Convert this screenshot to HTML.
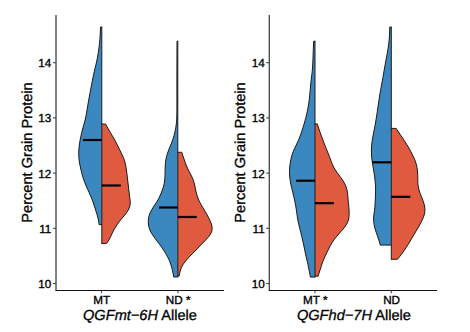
<!DOCTYPE html>
<html><head><meta charset="utf-8">
<style>
html,body{margin:0;padding:0;background:#fff;width:470px;height:332px;overflow:hidden}
svg{display:block}
text{font-family:"Liberation Sans",sans-serif;fill:#000;text-rendering:geometricPrecision}
.tk{font-size:11.7px;stroke:#000;stroke-width:0.35px}
.ti{font-size:14.6px;stroke:#000;stroke-width:0.3px}
</style></head><body>
<svg width="470" height="332" viewBox="0 0 470 332">
<rect width="470" height="332" fill="#fff"/>
<path d="M101.80,27.00 L100.50,27.00 100.48,28.00 100.45,29.00 100.41,30.00 100.37,31.00 100.33,32.00 100.29,33.00 100.24,34.00 100.18,35.00 100.12,36.00 100.05,37.00 99.98,38.00 99.90,39.00 99.81,40.00 99.72,41.00 99.63,42.00 99.52,43.00 99.42,44.00 99.31,45.00 99.19,46.00 99.07,47.00 98.94,48.00 98.81,49.00 98.67,50.00 98.53,51.00 98.38,52.00 98.23,53.00 98.07,54.00 97.91,55.00 97.73,56.00 97.56,57.00 97.37,58.00 97.18,59.00 96.98,60.00 96.77,61.00 96.55,62.00 96.33,63.00 96.10,64.00 95.86,65.00 95.61,66.00 95.37,67.00 95.12,68.00 94.88,69.00 94.64,70.00 94.41,71.00 94.18,72.00 93.96,73.00 93.74,74.00 93.52,75.00 93.31,76.00 93.10,77.00 92.90,78.00 92.70,79.00 92.50,80.00 92.30,81.00 92.11,82.00 91.92,83.00 91.72,84.00 91.53,85.00 91.34,86.00 91.15,87.00 90.97,88.00 90.78,89.00 90.59,90.00 90.40,91.00 90.21,92.00 90.02,93.00 89.83,94.00 89.64,95.00 89.45,96.00 89.26,97.00 89.08,98.00 88.89,99.00 88.71,100.00 88.54,101.00 88.36,102.00 88.19,103.00 88.02,104.00 87.85,105.00 87.68,106.00 87.52,107.00 87.35,108.00 87.19,109.00 87.02,110.00 86.86,111.00 86.69,112.00 86.52,113.00 86.35,114.00 86.17,115.00 85.98,116.00 85.78,117.00 85.57,118.00 85.35,119.00 85.12,120.00 84.87,121.00 84.61,122.00 84.33,123.00 84.05,124.00 83.77,125.00 83.48,126.00 83.19,127.00 82.91,128.00 82.63,129.00 82.36,130.00 82.10,131.00 81.85,132.00 81.61,133.00 81.38,134.00 81.16,135.00 80.95,136.00 80.74,137.00 80.54,138.00 80.35,139.00 80.16,140.00 79.98,141.00 79.81,142.00 79.64,143.00 79.49,144.00 79.34,145.00 79.21,146.00 79.09,147.00 78.99,148.00 78.90,149.00 78.83,150.00 78.77,151.00 78.74,152.00 78.72,153.00 78.72,154.00 78.75,155.00 78.79,156.00 78.84,157.00 78.92,158.00 79.01,159.00 79.13,160.00 79.26,161.00 79.41,162.00 79.57,163.00 79.75,164.00 79.94,165.00 80.15,166.00 80.36,167.00 80.58,168.00 80.81,169.00 81.04,170.00 81.28,171.00 81.53,172.00 81.78,173.00 82.04,174.00 82.31,175.00 82.59,176.00 82.89,177.00 83.20,178.00 83.52,179.00 83.86,180.00 84.22,181.00 84.60,182.00 84.99,183.00 85.39,184.00 85.81,185.00 86.23,186.00 86.67,187.00 87.11,188.00 87.55,189.00 87.99,190.00 88.44,191.00 88.88,192.00 89.33,193.00 89.77,194.00 90.20,195.00 90.63,196.00 91.05,197.00 91.45,198.00 91.85,199.00 92.24,200.00 92.61,201.00 92.97,202.00 93.32,203.00 93.66,204.00 93.99,205.00 94.31,206.00 94.64,207.00 94.96,208.00 95.27,209.00 95.59,210.00 95.91,211.00 96.24,212.00 96.55,213.00 96.86,214.00 97.16,215.00 97.45,216.00 97.72,217.00 97.98,218.00 98.21,219.00 98.42,220.00 98.60,221.00 98.76,222.00 98.91,223.00 99.04,224.00 99.00,224.60 L101.80,224.60 Z" fill="#3b87c0"/>
<path d="M101.80,27.00 L100.50,27.00 100.48,28.00 100.45,29.00 100.41,30.00 100.37,31.00 100.33,32.00 100.29,33.00 100.24,34.00 100.18,35.00 100.12,36.00 100.05,37.00 99.98,38.00 99.90,39.00 99.81,40.00 99.72,41.00 99.63,42.00 99.52,43.00 99.42,44.00 99.31,45.00 99.19,46.00 99.07,47.00 98.94,48.00 98.81,49.00 98.67,50.00 98.53,51.00 98.38,52.00 98.23,53.00 98.07,54.00 97.91,55.00 97.73,56.00 97.56,57.00 97.37,58.00 97.18,59.00 96.98,60.00 96.77,61.00 96.55,62.00 96.33,63.00 96.10,64.00 95.86,65.00 95.61,66.00 95.37,67.00 95.12,68.00 94.88,69.00 94.64,70.00 94.41,71.00 94.18,72.00 93.96,73.00 93.74,74.00 93.52,75.00 93.31,76.00 93.10,77.00 92.90,78.00 92.70,79.00 92.50,80.00 92.30,81.00 92.11,82.00 91.92,83.00 91.72,84.00 91.53,85.00 91.34,86.00 91.15,87.00 90.97,88.00 90.78,89.00 90.59,90.00 90.40,91.00 90.21,92.00 90.02,93.00 89.83,94.00 89.64,95.00 89.45,96.00 89.26,97.00 89.08,98.00 88.89,99.00 88.71,100.00 88.54,101.00 88.36,102.00 88.19,103.00 88.02,104.00 87.85,105.00 87.68,106.00 87.52,107.00 87.35,108.00 87.19,109.00 87.02,110.00 86.86,111.00 86.69,112.00 86.52,113.00 86.35,114.00 86.17,115.00 85.98,116.00 85.78,117.00 85.57,118.00 85.35,119.00 85.12,120.00 84.87,121.00 84.61,122.00 84.33,123.00 84.05,124.00 83.77,125.00 83.48,126.00 83.19,127.00 82.91,128.00 82.63,129.00 82.36,130.00 82.10,131.00 81.85,132.00 81.61,133.00 81.38,134.00 81.16,135.00 80.95,136.00 80.74,137.00 80.54,138.00 80.35,139.00 80.16,140.00 79.98,141.00 79.81,142.00 79.64,143.00 79.49,144.00 79.34,145.00 79.21,146.00 79.09,147.00 78.99,148.00 78.90,149.00 78.83,150.00 78.77,151.00 78.74,152.00 78.72,153.00 78.72,154.00 78.75,155.00 78.79,156.00 78.84,157.00 78.92,158.00 79.01,159.00 79.13,160.00 79.26,161.00 79.41,162.00 79.57,163.00 79.75,164.00 79.94,165.00 80.15,166.00 80.36,167.00 80.58,168.00 80.81,169.00 81.04,170.00 81.28,171.00 81.53,172.00 81.78,173.00 82.04,174.00 82.31,175.00 82.59,176.00 82.89,177.00 83.20,178.00 83.52,179.00 83.86,180.00 84.22,181.00 84.60,182.00 84.99,183.00 85.39,184.00 85.81,185.00 86.23,186.00 86.67,187.00 87.11,188.00 87.55,189.00 87.99,190.00 88.44,191.00 88.88,192.00 89.33,193.00 89.77,194.00 90.20,195.00 90.63,196.00 91.05,197.00 91.45,198.00 91.85,199.00 92.24,200.00 92.61,201.00 92.97,202.00 93.32,203.00 93.66,204.00 93.99,205.00 94.31,206.00 94.64,207.00 94.96,208.00 95.27,209.00 95.59,210.00 95.91,211.00 96.24,212.00 96.55,213.00 96.86,214.00 97.16,215.00 97.45,216.00 97.72,217.00 97.98,218.00 98.21,219.00 98.42,220.00 98.60,221.00 98.76,222.00 98.91,223.00 99.04,224.00 99.00,224.60 L101.80,224.60" fill="none" stroke="#1c1c1c" stroke-width="1" stroke-linejoin="round" stroke-linecap="round"/>
<path d="M101.80,124.00 L105.60,124.00 106.11,125.00 106.65,126.00 107.20,127.00 107.75,128.00 108.31,129.00 108.88,130.00 109.46,131.00 110.05,132.00 110.64,133.00 111.23,134.00 111.83,135.00 112.42,136.00 113.01,137.00 113.59,138.00 114.16,139.00 114.72,140.00 115.26,141.00 115.80,142.00 116.32,143.00 116.83,144.00 117.33,145.00 117.83,146.00 118.33,147.00 118.82,148.00 119.31,149.00 119.81,150.00 120.30,151.00 120.79,152.00 121.28,153.00 121.76,154.00 122.23,155.00 122.69,156.00 123.12,157.00 123.53,158.00 123.92,159.00 124.27,160.00 124.60,161.00 124.89,162.00 125.15,163.00 125.39,164.00 125.61,165.00 125.80,166.00 125.98,167.00 126.14,168.00 126.29,169.00 126.44,170.00 126.57,171.00 126.70,172.00 126.82,173.00 126.94,174.00 127.06,175.00 127.17,176.00 127.29,177.00 127.40,178.00 127.52,179.00 127.63,180.00 127.75,181.00 127.87,182.00 127.99,183.00 128.11,184.00 128.24,185.00 128.36,186.00 128.48,187.00 128.60,188.00 128.71,189.00 128.83,190.00 128.94,191.00 129.05,192.00 129.16,193.00 129.28,194.00 129.41,195.00 129.54,196.00 129.68,197.00 129.82,198.00 129.95,199.00 130.06,200.00 130.14,201.00 130.19,202.00 130.19,203.00 130.13,204.00 130.01,205.00 129.82,206.00 129.55,207.00 129.20,208.00 128.77,209.00 128.26,210.00 127.67,211.00 127.01,212.00 126.29,213.00 125.53,214.00 124.73,215.00 123.91,216.00 123.07,217.00 122.23,218.00 121.39,219.00 120.57,220.00 119.77,221.00 119.00,222.00 118.25,223.00 117.54,224.00 116.85,225.00 116.19,226.00 115.56,227.00 114.96,228.00 114.39,229.00 113.84,230.00 113.32,231.00 112.82,232.00 112.34,233.00 111.87,234.00 111.40,235.00 110.92,236.00 110.44,237.00 109.93,238.00 109.39,239.00 108.83,240.00 108.22,241.00 107.58,242.00 106.93,243.00 106.30,243.60 L101.80,243.60 Z" fill="#e05a3f"/>
<path d="M101.80,124.00 L105.60,124.00 106.11,125.00 106.65,126.00 107.20,127.00 107.75,128.00 108.31,129.00 108.88,130.00 109.46,131.00 110.05,132.00 110.64,133.00 111.23,134.00 111.83,135.00 112.42,136.00 113.01,137.00 113.59,138.00 114.16,139.00 114.72,140.00 115.26,141.00 115.80,142.00 116.32,143.00 116.83,144.00 117.33,145.00 117.83,146.00 118.33,147.00 118.82,148.00 119.31,149.00 119.81,150.00 120.30,151.00 120.79,152.00 121.28,153.00 121.76,154.00 122.23,155.00 122.69,156.00 123.12,157.00 123.53,158.00 123.92,159.00 124.27,160.00 124.60,161.00 124.89,162.00 125.15,163.00 125.39,164.00 125.61,165.00 125.80,166.00 125.98,167.00 126.14,168.00 126.29,169.00 126.44,170.00 126.57,171.00 126.70,172.00 126.82,173.00 126.94,174.00 127.06,175.00 127.17,176.00 127.29,177.00 127.40,178.00 127.52,179.00 127.63,180.00 127.75,181.00 127.87,182.00 127.99,183.00 128.11,184.00 128.24,185.00 128.36,186.00 128.48,187.00 128.60,188.00 128.71,189.00 128.83,190.00 128.94,191.00 129.05,192.00 129.16,193.00 129.28,194.00 129.41,195.00 129.54,196.00 129.68,197.00 129.82,198.00 129.95,199.00 130.06,200.00 130.14,201.00 130.19,202.00 130.19,203.00 130.13,204.00 130.01,205.00 129.82,206.00 129.55,207.00 129.20,208.00 128.77,209.00 128.26,210.00 127.67,211.00 127.01,212.00 126.29,213.00 125.53,214.00 124.73,215.00 123.91,216.00 123.07,217.00 122.23,218.00 121.39,219.00 120.57,220.00 119.77,221.00 119.00,222.00 118.25,223.00 117.54,224.00 116.85,225.00 116.19,226.00 115.56,227.00 114.96,228.00 114.39,229.00 113.84,230.00 113.32,231.00 112.82,232.00 112.34,233.00 111.87,234.00 111.40,235.00 110.92,236.00 110.44,237.00 109.93,238.00 109.39,239.00 108.83,240.00 108.22,241.00 107.58,242.00 106.93,243.00 106.30,243.60 L101.80,243.60" fill="none" stroke="#1c1c1c" stroke-width="1" stroke-linejoin="round" stroke-linecap="round"/>
<line x1="101.8" y1="27.0" x2="101.8" y2="243.6" stroke="#1c1c1c" stroke-width="1"/>
<line x1="83" y1="140" x2="101.8" y2="140" stroke="#000" stroke-width="2.2"/>
<line x1="101.8" y1="185.5" x2="120.8" y2="185.5" stroke="#000" stroke-width="2.2"/>
<path d="M177.80,41.20 L177.00,41.20 177.00,42.00 176.99,43.00 176.99,44.00 176.99,45.00 176.98,46.00 176.98,47.00 176.98,48.00 176.97,49.00 176.97,50.00 176.97,51.00 176.96,52.00 176.96,53.00 176.96,54.00 176.95,55.00 176.95,56.00 176.95,57.00 176.94,58.00 176.94,59.00 176.94,60.00 176.93,61.00 176.93,62.00 176.93,63.00 176.93,64.00 176.92,65.00 176.92,66.00 176.92,67.00 176.92,68.00 176.91,69.00 176.91,70.00 176.91,71.00 176.91,72.00 176.90,73.00 176.90,74.00 176.90,75.00 176.90,76.00 176.90,77.00 176.90,78.00 176.90,79.00 176.89,80.00 176.89,81.00 176.89,82.00 176.89,83.00 176.89,84.00 176.89,85.00 176.89,86.00 176.89,87.00 176.89,88.00 176.89,89.00 176.89,90.00 176.89,91.00 176.89,92.00 176.89,93.00 176.89,94.00 176.90,95.00 176.90,96.00 176.90,97.00 176.90,98.00 176.90,99.00 176.90,100.00 176.91,101.00 176.91,102.00 176.91,103.00 176.91,104.00 176.91,105.00 176.91,106.00 176.91,107.00 176.91,108.00 176.90,109.00 176.90,110.00 176.89,111.00 176.88,112.00 176.87,113.00 176.85,114.00 176.83,115.00 176.81,116.00 176.78,117.00 176.75,118.00 176.70,119.00 176.65,120.00 176.58,121.00 176.50,122.00 176.41,123.00 176.30,124.00 176.17,125.00 176.03,126.00 175.88,127.00 175.71,128.00 175.53,129.00 175.34,130.00 175.13,131.00 174.92,132.00 174.69,133.00 174.45,134.00 174.19,135.00 173.92,136.00 173.63,137.00 173.32,138.00 172.99,139.00 172.65,140.00 172.29,141.00 171.92,142.00 171.53,143.00 171.13,144.00 170.73,145.00 170.31,146.00 169.90,147.00 169.49,148.00 169.08,149.00 168.69,150.00 168.31,151.00 167.95,152.00 167.62,153.00 167.30,154.00 167.00,155.00 166.73,156.00 166.47,157.00 166.24,158.00 166.04,159.00 165.86,160.00 165.70,161.00 165.57,162.00 165.46,163.00 165.37,164.00 165.30,165.00 165.24,166.00 165.19,167.00 165.16,168.00 165.13,169.00 165.11,170.00 165.09,171.00 165.07,172.00 165.06,173.00 165.04,174.00 165.01,175.00 164.98,176.00 164.93,177.00 164.87,178.00 164.79,179.00 164.70,180.00 164.58,181.00 164.45,182.00 164.28,183.00 164.08,184.00 163.86,185.00 163.60,186.00 163.31,187.00 163.00,188.00 162.67,189.00 162.32,190.00 161.96,191.00 161.58,192.00 161.19,193.00 160.79,194.00 160.37,195.00 159.93,196.00 159.47,197.00 158.98,198.00 158.46,199.00 157.90,200.00 157.31,201.00 156.68,202.00 156.03,203.00 155.36,204.00 154.70,205.00 154.05,206.00 153.40,207.00 152.78,208.00 152.18,209.00 151.61,210.00 151.07,211.00 150.57,212.00 150.11,213.00 149.70,214.00 149.34,215.00 149.04,216.00 148.79,217.00 148.60,218.00 148.45,219.00 148.35,220.00 148.30,221.00 148.29,222.00 148.33,223.00 148.42,224.00 148.55,225.00 148.72,226.00 148.95,227.00 149.22,228.00 149.55,229.00 149.94,230.00 150.38,231.00 150.88,232.00 151.43,233.00 152.03,234.00 152.67,235.00 153.34,236.00 154.05,237.00 154.78,238.00 155.53,239.00 156.28,240.00 157.04,241.00 157.79,242.00 158.54,243.00 159.28,244.00 160.02,245.00 160.75,246.00 161.47,247.00 162.17,248.00 162.86,249.00 163.53,250.00 164.18,251.00 164.80,252.00 165.41,253.00 166.00,254.00 166.57,255.00 167.12,256.00 167.66,257.00 168.17,258.00 168.65,259.00 169.11,260.00 169.55,261.00 169.95,262.00 170.33,263.00 170.68,264.00 171.01,265.00 171.32,266.00 171.61,267.00 171.89,268.00 172.14,269.00 172.38,270.00 172.60,271.00 172.81,272.00 173.01,273.00 173.20,274.00 173.39,275.00 173.57,276.00 173.70,277.00 L177.80,277.00 Z" fill="#3b87c0"/>
<path d="M177.80,41.20 L177.00,41.20 177.00,42.00 176.99,43.00 176.99,44.00 176.99,45.00 176.98,46.00 176.98,47.00 176.98,48.00 176.97,49.00 176.97,50.00 176.97,51.00 176.96,52.00 176.96,53.00 176.96,54.00 176.95,55.00 176.95,56.00 176.95,57.00 176.94,58.00 176.94,59.00 176.94,60.00 176.93,61.00 176.93,62.00 176.93,63.00 176.93,64.00 176.92,65.00 176.92,66.00 176.92,67.00 176.92,68.00 176.91,69.00 176.91,70.00 176.91,71.00 176.91,72.00 176.90,73.00 176.90,74.00 176.90,75.00 176.90,76.00 176.90,77.00 176.90,78.00 176.90,79.00 176.89,80.00 176.89,81.00 176.89,82.00 176.89,83.00 176.89,84.00 176.89,85.00 176.89,86.00 176.89,87.00 176.89,88.00 176.89,89.00 176.89,90.00 176.89,91.00 176.89,92.00 176.89,93.00 176.89,94.00 176.90,95.00 176.90,96.00 176.90,97.00 176.90,98.00 176.90,99.00 176.90,100.00 176.91,101.00 176.91,102.00 176.91,103.00 176.91,104.00 176.91,105.00 176.91,106.00 176.91,107.00 176.91,108.00 176.90,109.00 176.90,110.00 176.89,111.00 176.88,112.00 176.87,113.00 176.85,114.00 176.83,115.00 176.81,116.00 176.78,117.00 176.75,118.00 176.70,119.00 176.65,120.00 176.58,121.00 176.50,122.00 176.41,123.00 176.30,124.00 176.17,125.00 176.03,126.00 175.88,127.00 175.71,128.00 175.53,129.00 175.34,130.00 175.13,131.00 174.92,132.00 174.69,133.00 174.45,134.00 174.19,135.00 173.92,136.00 173.63,137.00 173.32,138.00 172.99,139.00 172.65,140.00 172.29,141.00 171.92,142.00 171.53,143.00 171.13,144.00 170.73,145.00 170.31,146.00 169.90,147.00 169.49,148.00 169.08,149.00 168.69,150.00 168.31,151.00 167.95,152.00 167.62,153.00 167.30,154.00 167.00,155.00 166.73,156.00 166.47,157.00 166.24,158.00 166.04,159.00 165.86,160.00 165.70,161.00 165.57,162.00 165.46,163.00 165.37,164.00 165.30,165.00 165.24,166.00 165.19,167.00 165.16,168.00 165.13,169.00 165.11,170.00 165.09,171.00 165.07,172.00 165.06,173.00 165.04,174.00 165.01,175.00 164.98,176.00 164.93,177.00 164.87,178.00 164.79,179.00 164.70,180.00 164.58,181.00 164.45,182.00 164.28,183.00 164.08,184.00 163.86,185.00 163.60,186.00 163.31,187.00 163.00,188.00 162.67,189.00 162.32,190.00 161.96,191.00 161.58,192.00 161.19,193.00 160.79,194.00 160.37,195.00 159.93,196.00 159.47,197.00 158.98,198.00 158.46,199.00 157.90,200.00 157.31,201.00 156.68,202.00 156.03,203.00 155.36,204.00 154.70,205.00 154.05,206.00 153.40,207.00 152.78,208.00 152.18,209.00 151.61,210.00 151.07,211.00 150.57,212.00 150.11,213.00 149.70,214.00 149.34,215.00 149.04,216.00 148.79,217.00 148.60,218.00 148.45,219.00 148.35,220.00 148.30,221.00 148.29,222.00 148.33,223.00 148.42,224.00 148.55,225.00 148.72,226.00 148.95,227.00 149.22,228.00 149.55,229.00 149.94,230.00 150.38,231.00 150.88,232.00 151.43,233.00 152.03,234.00 152.67,235.00 153.34,236.00 154.05,237.00 154.78,238.00 155.53,239.00 156.28,240.00 157.04,241.00 157.79,242.00 158.54,243.00 159.28,244.00 160.02,245.00 160.75,246.00 161.47,247.00 162.17,248.00 162.86,249.00 163.53,250.00 164.18,251.00 164.80,252.00 165.41,253.00 166.00,254.00 166.57,255.00 167.12,256.00 167.66,257.00 168.17,258.00 168.65,259.00 169.11,260.00 169.55,261.00 169.95,262.00 170.33,263.00 170.68,264.00 171.01,265.00 171.32,266.00 171.61,267.00 171.89,268.00 172.14,269.00 172.38,270.00 172.60,271.00 172.81,272.00 173.01,273.00 173.20,274.00 173.39,275.00 173.57,276.00 173.70,277.00 L177.80,277.00" fill="none" stroke="#1c1c1c" stroke-width="1" stroke-linejoin="round" stroke-linecap="round"/>
<path d="M177.80,152.30 L181.80,152.30 182.02,153.00 182.35,154.00 182.68,155.00 183.01,156.00 183.35,157.00 183.68,158.00 184.02,159.00 184.36,160.00 184.70,161.00 185.05,162.00 185.41,163.00 185.78,164.00 186.16,165.00 186.55,166.00 186.97,167.00 187.40,168.00 187.86,169.00 188.35,170.00 188.86,171.00 189.38,172.00 189.92,173.00 190.46,174.00 190.98,175.00 191.48,176.00 191.96,177.00 192.41,178.00 192.83,179.00 193.21,180.00 193.56,181.00 193.86,182.00 194.14,183.00 194.40,184.00 194.63,185.00 194.86,186.00 195.07,187.00 195.28,188.00 195.49,189.00 195.70,190.00 195.92,191.00 196.15,192.00 196.39,193.00 196.65,194.00 196.93,195.00 197.23,196.00 197.56,197.00 197.92,198.00 198.30,199.00 198.73,200.00 199.18,201.00 199.67,202.00 200.19,203.00 200.73,204.00 201.29,205.00 201.87,206.00 202.46,207.00 203.05,208.00 203.65,209.00 204.25,210.00 204.85,211.00 205.44,212.00 206.02,213.00 206.59,214.00 207.15,215.00 207.70,216.00 208.23,217.00 208.75,218.00 209.24,219.00 209.72,220.00 210.18,221.00 210.60,222.00 210.99,223.00 211.34,224.00 211.63,225.00 211.86,226.00 212.02,227.00 212.10,228.00 212.09,229.00 211.99,230.00 211.78,231.00 211.47,232.00 211.05,233.00 210.53,234.00 209.91,235.00 209.20,236.00 208.40,237.00 207.54,238.00 206.63,239.00 205.68,240.00 204.71,241.00 203.73,242.00 202.74,243.00 201.76,244.00 200.78,245.00 199.81,246.00 198.86,247.00 197.91,248.00 196.95,249.00 195.98,250.00 194.99,251.00 193.99,252.00 192.99,253.00 192.00,254.00 191.02,255.00 190.07,256.00 189.15,257.00 188.25,258.00 187.37,259.00 186.50,260.00 185.66,261.00 184.85,262.00 184.08,263.00 183.36,264.00 182.71,265.00 182.14,266.00 181.65,267.00 181.22,268.00 180.84,269.00 180.52,270.00 180.24,271.00 179.99,272.00 179.76,273.00 179.55,274.00 179.35,275.00 179.20,276.00 L177.80,276.00 Z" fill="#e05a3f"/>
<path d="M177.80,152.30 L181.80,152.30 182.02,153.00 182.35,154.00 182.68,155.00 183.01,156.00 183.35,157.00 183.68,158.00 184.02,159.00 184.36,160.00 184.70,161.00 185.05,162.00 185.41,163.00 185.78,164.00 186.16,165.00 186.55,166.00 186.97,167.00 187.40,168.00 187.86,169.00 188.35,170.00 188.86,171.00 189.38,172.00 189.92,173.00 190.46,174.00 190.98,175.00 191.48,176.00 191.96,177.00 192.41,178.00 192.83,179.00 193.21,180.00 193.56,181.00 193.86,182.00 194.14,183.00 194.40,184.00 194.63,185.00 194.86,186.00 195.07,187.00 195.28,188.00 195.49,189.00 195.70,190.00 195.92,191.00 196.15,192.00 196.39,193.00 196.65,194.00 196.93,195.00 197.23,196.00 197.56,197.00 197.92,198.00 198.30,199.00 198.73,200.00 199.18,201.00 199.67,202.00 200.19,203.00 200.73,204.00 201.29,205.00 201.87,206.00 202.46,207.00 203.05,208.00 203.65,209.00 204.25,210.00 204.85,211.00 205.44,212.00 206.02,213.00 206.59,214.00 207.15,215.00 207.70,216.00 208.23,217.00 208.75,218.00 209.24,219.00 209.72,220.00 210.18,221.00 210.60,222.00 210.99,223.00 211.34,224.00 211.63,225.00 211.86,226.00 212.02,227.00 212.10,228.00 212.09,229.00 211.99,230.00 211.78,231.00 211.47,232.00 211.05,233.00 210.53,234.00 209.91,235.00 209.20,236.00 208.40,237.00 207.54,238.00 206.63,239.00 205.68,240.00 204.71,241.00 203.73,242.00 202.74,243.00 201.76,244.00 200.78,245.00 199.81,246.00 198.86,247.00 197.91,248.00 196.95,249.00 195.98,250.00 194.99,251.00 193.99,252.00 192.99,253.00 192.00,254.00 191.02,255.00 190.07,256.00 189.15,257.00 188.25,258.00 187.37,259.00 186.50,260.00 185.66,261.00 184.85,262.00 184.08,263.00 183.36,264.00 182.71,265.00 182.14,266.00 181.65,267.00 181.22,268.00 180.84,269.00 180.52,270.00 180.24,271.00 179.99,272.00 179.76,273.00 179.55,274.00 179.35,275.00 179.20,276.00 L177.80,276.00" fill="none" stroke="#1c1c1c" stroke-width="1" stroke-linejoin="round" stroke-linecap="round"/>
<line x1="177.8" y1="41.2" x2="177.8" y2="277" stroke="#1c1c1c" stroke-width="1"/>
<line x1="159" y1="207.5" x2="177.8" y2="207.5" stroke="#000" stroke-width="2.2"/>
<line x1="177.8" y1="217" x2="196.8" y2="217" stroke="#000" stroke-width="2.2"/>
<path d="M315.00,41.20 L313.60,41.20 313.57,42.00 313.54,43.00 313.51,44.00 313.47,45.00 313.44,46.00 313.40,47.00 313.37,48.00 313.33,49.00 313.30,50.00 313.26,51.00 313.23,52.00 313.19,53.00 313.15,54.00 313.11,55.00 313.08,56.00 313.04,57.00 313.00,58.00 312.96,59.00 312.92,60.00 312.88,61.00 312.84,62.00 312.80,63.00 312.75,64.00 312.70,65.00 312.65,66.00 312.58,67.00 312.51,68.00 312.43,69.00 312.34,70.00 312.24,71.00 312.14,72.00 312.02,73.00 311.90,74.00 311.77,75.00 311.65,76.00 311.52,77.00 311.39,78.00 311.27,79.00 311.15,80.00 311.04,81.00 310.93,82.00 310.83,83.00 310.73,84.00 310.64,85.00 310.55,86.00 310.46,87.00 310.37,88.00 310.28,89.00 310.20,90.00 310.11,91.00 310.02,92.00 309.93,93.00 309.84,94.00 309.74,95.00 309.64,96.00 309.54,97.00 309.43,98.00 309.31,99.00 309.19,100.00 309.07,101.00 308.93,102.00 308.79,103.00 308.64,104.00 308.49,105.00 308.32,106.00 308.15,107.00 307.97,108.00 307.79,109.00 307.59,110.00 307.39,111.00 307.17,112.00 306.95,113.00 306.72,114.00 306.49,115.00 306.24,116.00 305.99,117.00 305.74,118.00 305.47,119.00 305.21,120.00 304.93,121.00 304.65,122.00 304.37,123.00 304.08,124.00 303.78,125.00 303.48,126.00 303.17,127.00 302.86,128.00 302.54,129.00 302.22,130.00 301.89,131.00 301.56,132.00 301.22,133.00 300.87,134.00 300.51,135.00 300.14,136.00 299.76,137.00 299.36,138.00 298.96,139.00 298.53,140.00 298.10,141.00 297.65,142.00 297.18,143.00 296.71,144.00 296.24,145.00 295.76,146.00 295.28,147.00 294.80,148.00 294.34,149.00 293.90,150.00 293.48,151.00 293.08,152.00 292.71,153.00 292.36,154.00 292.04,155.00 291.74,156.00 291.47,157.00 291.22,158.00 290.99,159.00 290.78,160.00 290.59,161.00 290.41,162.00 290.25,163.00 290.11,164.00 289.99,165.00 289.88,166.00 289.78,167.00 289.70,168.00 289.64,169.00 289.59,170.00 289.56,171.00 289.55,172.00 289.56,173.00 289.58,174.00 289.62,175.00 289.68,176.00 289.77,177.00 289.87,178.00 289.98,179.00 290.12,180.00 290.27,181.00 290.44,182.00 290.63,183.00 290.82,184.00 291.03,185.00 291.25,186.00 291.48,187.00 291.71,188.00 291.95,189.00 292.19,190.00 292.44,191.00 292.68,192.00 292.93,193.00 293.17,194.00 293.42,195.00 293.66,196.00 293.90,197.00 294.13,198.00 294.36,199.00 294.57,200.00 294.79,201.00 294.99,202.00 295.19,203.00 295.37,204.00 295.56,205.00 295.73,206.00 295.90,207.00 296.06,208.00 296.22,209.00 296.37,210.00 296.51,211.00 296.65,212.00 296.79,213.00 296.93,214.00 297.07,215.00 297.21,216.00 297.36,217.00 297.52,218.00 297.69,219.00 297.87,220.00 298.06,221.00 298.27,222.00 298.48,223.00 298.71,224.00 298.94,225.00 299.18,226.00 299.43,227.00 299.67,228.00 299.92,229.00 300.18,230.00 300.43,231.00 300.67,232.00 300.92,233.00 301.17,234.00 301.41,235.00 301.65,236.00 301.89,237.00 302.13,238.00 302.36,239.00 302.60,240.00 302.82,241.00 303.05,242.00 303.27,243.00 303.49,244.00 303.71,245.00 303.92,246.00 304.13,247.00 304.33,248.00 304.53,249.00 304.73,250.00 304.93,251.00 305.12,252.00 305.32,253.00 305.53,254.00 305.74,255.00 305.97,256.00 306.20,257.00 306.45,258.00 306.69,259.00 306.93,260.00 307.17,261.00 307.40,262.00 307.63,263.00 307.85,264.00 308.06,265.00 308.27,266.00 308.47,267.00 308.66,268.00 308.86,269.00 309.06,270.00 309.25,271.00 309.45,272.00 309.65,273.00 309.85,274.00 310.04,275.00 310.23,276.00 310.42,277.00 310.40,277.10 L315.00,277.10 Z" fill="#3b87c0"/>
<path d="M315.00,41.20 L313.60,41.20 313.57,42.00 313.54,43.00 313.51,44.00 313.47,45.00 313.44,46.00 313.40,47.00 313.37,48.00 313.33,49.00 313.30,50.00 313.26,51.00 313.23,52.00 313.19,53.00 313.15,54.00 313.11,55.00 313.08,56.00 313.04,57.00 313.00,58.00 312.96,59.00 312.92,60.00 312.88,61.00 312.84,62.00 312.80,63.00 312.75,64.00 312.70,65.00 312.65,66.00 312.58,67.00 312.51,68.00 312.43,69.00 312.34,70.00 312.24,71.00 312.14,72.00 312.02,73.00 311.90,74.00 311.77,75.00 311.65,76.00 311.52,77.00 311.39,78.00 311.27,79.00 311.15,80.00 311.04,81.00 310.93,82.00 310.83,83.00 310.73,84.00 310.64,85.00 310.55,86.00 310.46,87.00 310.37,88.00 310.28,89.00 310.20,90.00 310.11,91.00 310.02,92.00 309.93,93.00 309.84,94.00 309.74,95.00 309.64,96.00 309.54,97.00 309.43,98.00 309.31,99.00 309.19,100.00 309.07,101.00 308.93,102.00 308.79,103.00 308.64,104.00 308.49,105.00 308.32,106.00 308.15,107.00 307.97,108.00 307.79,109.00 307.59,110.00 307.39,111.00 307.17,112.00 306.95,113.00 306.72,114.00 306.49,115.00 306.24,116.00 305.99,117.00 305.74,118.00 305.47,119.00 305.21,120.00 304.93,121.00 304.65,122.00 304.37,123.00 304.08,124.00 303.78,125.00 303.48,126.00 303.17,127.00 302.86,128.00 302.54,129.00 302.22,130.00 301.89,131.00 301.56,132.00 301.22,133.00 300.87,134.00 300.51,135.00 300.14,136.00 299.76,137.00 299.36,138.00 298.96,139.00 298.53,140.00 298.10,141.00 297.65,142.00 297.18,143.00 296.71,144.00 296.24,145.00 295.76,146.00 295.28,147.00 294.80,148.00 294.34,149.00 293.90,150.00 293.48,151.00 293.08,152.00 292.71,153.00 292.36,154.00 292.04,155.00 291.74,156.00 291.47,157.00 291.22,158.00 290.99,159.00 290.78,160.00 290.59,161.00 290.41,162.00 290.25,163.00 290.11,164.00 289.99,165.00 289.88,166.00 289.78,167.00 289.70,168.00 289.64,169.00 289.59,170.00 289.56,171.00 289.55,172.00 289.56,173.00 289.58,174.00 289.62,175.00 289.68,176.00 289.77,177.00 289.87,178.00 289.98,179.00 290.12,180.00 290.27,181.00 290.44,182.00 290.63,183.00 290.82,184.00 291.03,185.00 291.25,186.00 291.48,187.00 291.71,188.00 291.95,189.00 292.19,190.00 292.44,191.00 292.68,192.00 292.93,193.00 293.17,194.00 293.42,195.00 293.66,196.00 293.90,197.00 294.13,198.00 294.36,199.00 294.57,200.00 294.79,201.00 294.99,202.00 295.19,203.00 295.37,204.00 295.56,205.00 295.73,206.00 295.90,207.00 296.06,208.00 296.22,209.00 296.37,210.00 296.51,211.00 296.65,212.00 296.79,213.00 296.93,214.00 297.07,215.00 297.21,216.00 297.36,217.00 297.52,218.00 297.69,219.00 297.87,220.00 298.06,221.00 298.27,222.00 298.48,223.00 298.71,224.00 298.94,225.00 299.18,226.00 299.43,227.00 299.67,228.00 299.92,229.00 300.18,230.00 300.43,231.00 300.67,232.00 300.92,233.00 301.17,234.00 301.41,235.00 301.65,236.00 301.89,237.00 302.13,238.00 302.36,239.00 302.60,240.00 302.82,241.00 303.05,242.00 303.27,243.00 303.49,244.00 303.71,245.00 303.92,246.00 304.13,247.00 304.33,248.00 304.53,249.00 304.73,250.00 304.93,251.00 305.12,252.00 305.32,253.00 305.53,254.00 305.74,255.00 305.97,256.00 306.20,257.00 306.45,258.00 306.69,259.00 306.93,260.00 307.17,261.00 307.40,262.00 307.63,263.00 307.85,264.00 308.06,265.00 308.27,266.00 308.47,267.00 308.66,268.00 308.86,269.00 309.06,270.00 309.25,271.00 309.45,272.00 309.65,273.00 309.85,274.00 310.04,275.00 310.23,276.00 310.42,277.00 310.40,277.10 L315.00,277.10" fill="none" stroke="#1c1c1c" stroke-width="1" stroke-linejoin="round" stroke-linecap="round"/>
<path d="M315.00,123.90 L317.40,123.90 317.39,124.00 317.70,125.00 318.00,126.00 318.31,127.00 318.62,128.00 318.94,129.00 319.27,130.00 319.60,131.00 319.95,132.00 320.31,133.00 320.67,134.00 321.04,135.00 321.41,136.00 321.78,137.00 322.15,138.00 322.53,139.00 322.90,140.00 323.27,141.00 323.65,142.00 324.02,143.00 324.40,144.00 324.78,145.00 325.17,146.00 325.57,147.00 325.97,148.00 326.37,149.00 326.78,150.00 327.19,151.00 327.61,152.00 328.02,153.00 328.42,154.00 328.82,155.00 329.20,156.00 329.58,157.00 329.95,158.00 330.32,159.00 330.68,160.00 331.05,161.00 331.42,162.00 331.80,163.00 332.21,164.00 332.64,165.00 333.11,166.00 333.61,167.00 334.16,168.00 334.74,169.00 335.36,170.00 336.01,171.00 336.70,172.00 337.42,173.00 338.14,174.00 338.88,175.00 339.62,176.00 340.36,177.00 341.08,178.00 341.79,179.00 342.47,180.00 343.12,181.00 343.74,182.00 344.32,183.00 344.85,184.00 345.32,185.00 345.75,186.00 346.12,187.00 346.44,188.00 346.72,189.00 346.95,190.00 347.15,191.00 347.32,192.00 347.46,193.00 347.58,194.00 347.69,195.00 347.79,196.00 347.88,197.00 347.97,198.00 348.06,199.00 348.15,200.00 348.24,201.00 348.33,202.00 348.43,203.00 348.53,204.00 348.63,205.00 348.72,206.00 348.81,207.00 348.90,208.00 348.97,209.00 349.04,210.00 349.09,211.00 349.12,212.00 349.14,213.00 349.13,214.00 349.10,215.00 349.04,216.00 348.94,217.00 348.80,218.00 348.61,219.00 348.35,220.00 348.03,221.00 347.65,222.00 347.19,223.00 346.66,224.00 346.06,225.00 345.39,226.00 344.66,227.00 343.88,228.00 343.07,229.00 342.22,230.00 341.37,231.00 340.50,232.00 339.62,233.00 338.75,234.00 337.89,235.00 337.03,236.00 336.19,237.00 335.38,238.00 334.59,239.00 333.84,240.00 333.13,241.00 332.45,242.00 331.81,243.00 331.21,244.00 330.65,245.00 330.12,246.00 329.61,247.00 329.12,248.00 328.64,249.00 328.16,250.00 327.67,251.00 327.18,252.00 326.69,253.00 326.19,254.00 325.70,255.00 325.22,256.00 324.75,257.00 324.30,258.00 323.86,259.00 323.44,260.00 323.05,261.00 322.67,262.00 322.31,263.00 321.97,264.00 321.63,265.00 321.30,266.00 320.97,267.00 320.65,268.00 320.33,269.00 320.01,270.00 319.70,271.00 319.39,272.00 319.09,273.00 318.78,274.00 318.47,275.00 318.17,276.00 318.10,276.20 L315.00,276.20 Z" fill="#e05a3f"/>
<path d="M315.00,123.90 L317.40,123.90 317.39,124.00 317.70,125.00 318.00,126.00 318.31,127.00 318.62,128.00 318.94,129.00 319.27,130.00 319.60,131.00 319.95,132.00 320.31,133.00 320.67,134.00 321.04,135.00 321.41,136.00 321.78,137.00 322.15,138.00 322.53,139.00 322.90,140.00 323.27,141.00 323.65,142.00 324.02,143.00 324.40,144.00 324.78,145.00 325.17,146.00 325.57,147.00 325.97,148.00 326.37,149.00 326.78,150.00 327.19,151.00 327.61,152.00 328.02,153.00 328.42,154.00 328.82,155.00 329.20,156.00 329.58,157.00 329.95,158.00 330.32,159.00 330.68,160.00 331.05,161.00 331.42,162.00 331.80,163.00 332.21,164.00 332.64,165.00 333.11,166.00 333.61,167.00 334.16,168.00 334.74,169.00 335.36,170.00 336.01,171.00 336.70,172.00 337.42,173.00 338.14,174.00 338.88,175.00 339.62,176.00 340.36,177.00 341.08,178.00 341.79,179.00 342.47,180.00 343.12,181.00 343.74,182.00 344.32,183.00 344.85,184.00 345.32,185.00 345.75,186.00 346.12,187.00 346.44,188.00 346.72,189.00 346.95,190.00 347.15,191.00 347.32,192.00 347.46,193.00 347.58,194.00 347.69,195.00 347.79,196.00 347.88,197.00 347.97,198.00 348.06,199.00 348.15,200.00 348.24,201.00 348.33,202.00 348.43,203.00 348.53,204.00 348.63,205.00 348.72,206.00 348.81,207.00 348.90,208.00 348.97,209.00 349.04,210.00 349.09,211.00 349.12,212.00 349.14,213.00 349.13,214.00 349.10,215.00 349.04,216.00 348.94,217.00 348.80,218.00 348.61,219.00 348.35,220.00 348.03,221.00 347.65,222.00 347.19,223.00 346.66,224.00 346.06,225.00 345.39,226.00 344.66,227.00 343.88,228.00 343.07,229.00 342.22,230.00 341.37,231.00 340.50,232.00 339.62,233.00 338.75,234.00 337.89,235.00 337.03,236.00 336.19,237.00 335.38,238.00 334.59,239.00 333.84,240.00 333.13,241.00 332.45,242.00 331.81,243.00 331.21,244.00 330.65,245.00 330.12,246.00 329.61,247.00 329.12,248.00 328.64,249.00 328.16,250.00 327.67,251.00 327.18,252.00 326.69,253.00 326.19,254.00 325.70,255.00 325.22,256.00 324.75,257.00 324.30,258.00 323.86,259.00 323.44,260.00 323.05,261.00 322.67,262.00 322.31,263.00 321.97,264.00 321.63,265.00 321.30,266.00 320.97,267.00 320.65,268.00 320.33,269.00 320.01,270.00 319.70,271.00 319.39,272.00 319.09,273.00 318.78,274.00 318.47,275.00 318.17,276.00 318.10,276.20 L315.00,276.20" fill="none" stroke="#1c1c1c" stroke-width="1" stroke-linejoin="round" stroke-linecap="round"/>
<line x1="315.0" y1="41.2" x2="315.0" y2="277.1" stroke="#1c1c1c" stroke-width="1"/>
<line x1="296.1" y1="180.7" x2="315.0" y2="180.7" stroke="#000" stroke-width="2.2"/>
<line x1="315.0" y1="203.2" x2="333.8" y2="203.2" stroke="#000" stroke-width="2.2"/>
<path d="M391.30,27.00 L389.70,27.00 389.70,28.00 389.68,29.00 389.66,30.00 389.64,31.00 389.61,32.00 389.58,33.00 389.54,34.00 389.50,35.00 389.45,36.00 389.40,37.00 389.33,38.00 389.25,39.00 389.17,40.00 389.07,41.00 388.96,42.00 388.84,43.00 388.72,44.00 388.58,45.00 388.44,46.00 388.29,47.00 388.13,48.00 387.97,49.00 387.81,50.00 387.64,51.00 387.46,52.00 387.29,53.00 387.11,54.00 386.93,55.00 386.74,56.00 386.56,57.00 386.38,58.00 386.19,59.00 386.01,60.00 385.82,61.00 385.64,62.00 385.46,63.00 385.28,64.00 385.10,65.00 384.92,66.00 384.74,67.00 384.56,68.00 384.39,69.00 384.21,70.00 384.04,71.00 383.87,72.00 383.70,73.00 383.53,74.00 383.35,75.00 383.18,76.00 383.01,77.00 382.83,78.00 382.66,79.00 382.48,80.00 382.29,81.00 382.11,82.00 381.92,83.00 381.73,84.00 381.54,85.00 381.35,86.00 381.17,87.00 380.98,88.00 380.80,89.00 380.62,90.00 380.44,91.00 380.27,92.00 380.10,93.00 379.94,94.00 379.78,95.00 379.62,96.00 379.46,97.00 379.30,98.00 379.15,99.00 379.00,100.00 378.84,101.00 378.69,102.00 378.54,103.00 378.39,104.00 378.24,105.00 378.10,106.00 377.95,107.00 377.80,108.00 377.65,109.00 377.51,110.00 377.36,111.00 377.21,112.00 377.07,113.00 376.92,114.00 376.77,115.00 376.62,116.00 376.47,117.00 376.31,118.00 376.15,119.00 375.99,120.00 375.82,121.00 375.65,122.00 375.48,123.00 375.30,124.00 375.12,125.00 374.94,126.00 374.75,127.00 374.56,128.00 374.37,129.00 374.18,130.00 373.98,131.00 373.78,132.00 373.58,133.00 373.39,134.00 373.19,135.00 373.00,136.00 372.82,137.00 372.64,138.00 372.47,139.00 372.32,140.00 372.17,141.00 372.03,142.00 371.91,143.00 371.79,144.00 371.70,145.00 371.61,146.00 371.54,147.00 371.49,148.00 371.45,149.00 371.42,150.00 371.42,151.00 371.43,152.00 371.45,153.00 371.49,154.00 371.55,155.00 371.61,156.00 371.70,157.00 371.79,158.00 371.90,159.00 372.02,160.00 372.15,161.00 372.29,162.00 372.43,163.00 372.59,164.00 372.75,165.00 372.91,166.00 373.08,167.00 373.25,168.00 373.42,169.00 373.58,170.00 373.75,171.00 373.91,172.00 374.06,173.00 374.22,174.00 374.36,175.00 374.50,176.00 374.64,177.00 374.76,178.00 374.88,179.00 374.99,180.00 375.09,181.00 375.19,182.00 375.27,183.00 375.34,184.00 375.41,185.00 375.46,186.00 375.51,187.00 375.54,188.00 375.56,189.00 375.57,190.00 375.57,191.00 375.56,192.00 375.54,193.00 375.51,194.00 375.48,195.00 375.44,196.00 375.40,197.00 375.35,198.00 375.30,199.00 375.26,200.00 375.21,201.00 375.16,202.00 375.10,203.00 375.05,204.00 374.99,205.00 374.92,206.00 374.84,207.00 374.75,208.00 374.64,209.00 374.53,210.00 374.40,211.00 374.26,212.00 374.12,213.00 373.99,214.00 373.87,215.00 373.76,216.00 373.68,217.00 373.63,218.00 373.61,219.00 373.62,220.00 373.66,221.00 373.75,222.00 373.86,223.00 374.01,224.00 374.19,225.00 374.39,226.00 374.62,227.00 374.87,228.00 375.14,229.00 375.44,230.00 375.75,231.00 376.08,232.00 376.42,233.00 376.76,234.00 377.12,235.00 377.48,236.00 377.83,237.00 378.18,238.00 378.52,239.00 378.84,240.00 379.14,241.00 379.43,242.00 379.71,243.00 379.98,244.00 380.25,245.00 380.20,245.10 L391.30,245.10 Z" fill="#3b87c0"/>
<path d="M391.30,27.00 L389.70,27.00 389.70,28.00 389.68,29.00 389.66,30.00 389.64,31.00 389.61,32.00 389.58,33.00 389.54,34.00 389.50,35.00 389.45,36.00 389.40,37.00 389.33,38.00 389.25,39.00 389.17,40.00 389.07,41.00 388.96,42.00 388.84,43.00 388.72,44.00 388.58,45.00 388.44,46.00 388.29,47.00 388.13,48.00 387.97,49.00 387.81,50.00 387.64,51.00 387.46,52.00 387.29,53.00 387.11,54.00 386.93,55.00 386.74,56.00 386.56,57.00 386.38,58.00 386.19,59.00 386.01,60.00 385.82,61.00 385.64,62.00 385.46,63.00 385.28,64.00 385.10,65.00 384.92,66.00 384.74,67.00 384.56,68.00 384.39,69.00 384.21,70.00 384.04,71.00 383.87,72.00 383.70,73.00 383.53,74.00 383.35,75.00 383.18,76.00 383.01,77.00 382.83,78.00 382.66,79.00 382.48,80.00 382.29,81.00 382.11,82.00 381.92,83.00 381.73,84.00 381.54,85.00 381.35,86.00 381.17,87.00 380.98,88.00 380.80,89.00 380.62,90.00 380.44,91.00 380.27,92.00 380.10,93.00 379.94,94.00 379.78,95.00 379.62,96.00 379.46,97.00 379.30,98.00 379.15,99.00 379.00,100.00 378.84,101.00 378.69,102.00 378.54,103.00 378.39,104.00 378.24,105.00 378.10,106.00 377.95,107.00 377.80,108.00 377.65,109.00 377.51,110.00 377.36,111.00 377.21,112.00 377.07,113.00 376.92,114.00 376.77,115.00 376.62,116.00 376.47,117.00 376.31,118.00 376.15,119.00 375.99,120.00 375.82,121.00 375.65,122.00 375.48,123.00 375.30,124.00 375.12,125.00 374.94,126.00 374.75,127.00 374.56,128.00 374.37,129.00 374.18,130.00 373.98,131.00 373.78,132.00 373.58,133.00 373.39,134.00 373.19,135.00 373.00,136.00 372.82,137.00 372.64,138.00 372.47,139.00 372.32,140.00 372.17,141.00 372.03,142.00 371.91,143.00 371.79,144.00 371.70,145.00 371.61,146.00 371.54,147.00 371.49,148.00 371.45,149.00 371.42,150.00 371.42,151.00 371.43,152.00 371.45,153.00 371.49,154.00 371.55,155.00 371.61,156.00 371.70,157.00 371.79,158.00 371.90,159.00 372.02,160.00 372.15,161.00 372.29,162.00 372.43,163.00 372.59,164.00 372.75,165.00 372.91,166.00 373.08,167.00 373.25,168.00 373.42,169.00 373.58,170.00 373.75,171.00 373.91,172.00 374.06,173.00 374.22,174.00 374.36,175.00 374.50,176.00 374.64,177.00 374.76,178.00 374.88,179.00 374.99,180.00 375.09,181.00 375.19,182.00 375.27,183.00 375.34,184.00 375.41,185.00 375.46,186.00 375.51,187.00 375.54,188.00 375.56,189.00 375.57,190.00 375.57,191.00 375.56,192.00 375.54,193.00 375.51,194.00 375.48,195.00 375.44,196.00 375.40,197.00 375.35,198.00 375.30,199.00 375.26,200.00 375.21,201.00 375.16,202.00 375.10,203.00 375.05,204.00 374.99,205.00 374.92,206.00 374.84,207.00 374.75,208.00 374.64,209.00 374.53,210.00 374.40,211.00 374.26,212.00 374.12,213.00 373.99,214.00 373.87,215.00 373.76,216.00 373.68,217.00 373.63,218.00 373.61,219.00 373.62,220.00 373.66,221.00 373.75,222.00 373.86,223.00 374.01,224.00 374.19,225.00 374.39,226.00 374.62,227.00 374.87,228.00 375.14,229.00 375.44,230.00 375.75,231.00 376.08,232.00 376.42,233.00 376.76,234.00 377.12,235.00 377.48,236.00 377.83,237.00 378.18,238.00 378.52,239.00 378.84,240.00 379.14,241.00 379.43,242.00 379.71,243.00 379.98,244.00 380.25,245.00 380.20,245.10 L391.30,245.10" fill="none" stroke="#1c1c1c" stroke-width="1" stroke-linejoin="round" stroke-linecap="round"/>
<path d="M391.30,128.40 L396.20,128.40 396.56,129.00 397.21,130.00 397.86,131.00 398.52,132.00 399.18,133.00 399.84,134.00 400.51,135.00 401.19,136.00 401.87,137.00 402.55,138.00 403.22,139.00 403.89,140.00 404.54,141.00 405.19,142.00 405.82,143.00 406.44,144.00 407.05,145.00 407.65,146.00 408.25,147.00 408.83,148.00 409.40,149.00 409.97,150.00 410.51,151.00 411.05,152.00 411.57,153.00 412.08,154.00 412.58,155.00 413.07,156.00 413.54,157.00 414.00,158.00 414.43,159.00 414.84,160.00 415.22,161.00 415.57,162.00 415.89,163.00 416.18,164.00 416.44,165.00 416.67,166.00 416.87,167.00 417.05,168.00 417.20,169.00 417.33,170.00 417.45,171.00 417.54,172.00 417.62,173.00 417.69,174.00 417.74,175.00 417.77,176.00 417.79,177.00 417.81,178.00 417.81,179.00 417.82,180.00 417.83,181.00 417.85,182.00 417.89,183.00 417.95,184.00 418.05,185.00 418.18,186.00 418.35,187.00 418.55,188.00 418.78,189.00 419.04,190.00 419.33,191.00 419.65,192.00 420.00,193.00 420.37,194.00 420.76,195.00 421.16,196.00 421.57,197.00 421.98,198.00 422.38,199.00 422.76,200.00 423.13,201.00 423.47,202.00 423.78,203.00 424.05,204.00 424.29,205.00 424.49,206.00 424.65,207.00 424.77,208.00 424.84,209.00 424.86,210.00 424.82,211.00 424.74,212.00 424.59,213.00 424.40,214.00 424.14,215.00 423.83,216.00 423.47,217.00 423.07,218.00 422.63,219.00 422.17,220.00 421.68,221.00 421.17,222.00 420.66,223.00 420.14,224.00 419.61,225.00 419.06,226.00 418.50,227.00 417.93,228.00 417.34,229.00 416.74,230.00 416.14,231.00 415.53,232.00 414.93,233.00 414.32,234.00 413.72,235.00 413.13,236.00 412.54,237.00 411.96,238.00 411.39,239.00 410.81,240.00 410.22,241.00 409.63,242.00 409.01,243.00 408.38,244.00 407.74,245.00 407.10,246.00 406.45,247.00 405.80,248.00 405.14,249.00 404.47,250.00 403.79,251.00 403.10,252.00 402.38,253.00 401.65,254.00 400.90,255.00 400.12,256.00 399.34,257.00 398.54,258.00 397.74,259.00 397.40,259.30 L391.30,259.30 Z" fill="#e05a3f"/>
<path d="M391.30,128.40 L396.20,128.40 396.56,129.00 397.21,130.00 397.86,131.00 398.52,132.00 399.18,133.00 399.84,134.00 400.51,135.00 401.19,136.00 401.87,137.00 402.55,138.00 403.22,139.00 403.89,140.00 404.54,141.00 405.19,142.00 405.82,143.00 406.44,144.00 407.05,145.00 407.65,146.00 408.25,147.00 408.83,148.00 409.40,149.00 409.97,150.00 410.51,151.00 411.05,152.00 411.57,153.00 412.08,154.00 412.58,155.00 413.07,156.00 413.54,157.00 414.00,158.00 414.43,159.00 414.84,160.00 415.22,161.00 415.57,162.00 415.89,163.00 416.18,164.00 416.44,165.00 416.67,166.00 416.87,167.00 417.05,168.00 417.20,169.00 417.33,170.00 417.45,171.00 417.54,172.00 417.62,173.00 417.69,174.00 417.74,175.00 417.77,176.00 417.79,177.00 417.81,178.00 417.81,179.00 417.82,180.00 417.83,181.00 417.85,182.00 417.89,183.00 417.95,184.00 418.05,185.00 418.18,186.00 418.35,187.00 418.55,188.00 418.78,189.00 419.04,190.00 419.33,191.00 419.65,192.00 420.00,193.00 420.37,194.00 420.76,195.00 421.16,196.00 421.57,197.00 421.98,198.00 422.38,199.00 422.76,200.00 423.13,201.00 423.47,202.00 423.78,203.00 424.05,204.00 424.29,205.00 424.49,206.00 424.65,207.00 424.77,208.00 424.84,209.00 424.86,210.00 424.82,211.00 424.74,212.00 424.59,213.00 424.40,214.00 424.14,215.00 423.83,216.00 423.47,217.00 423.07,218.00 422.63,219.00 422.17,220.00 421.68,221.00 421.17,222.00 420.66,223.00 420.14,224.00 419.61,225.00 419.06,226.00 418.50,227.00 417.93,228.00 417.34,229.00 416.74,230.00 416.14,231.00 415.53,232.00 414.93,233.00 414.32,234.00 413.72,235.00 413.13,236.00 412.54,237.00 411.96,238.00 411.39,239.00 410.81,240.00 410.22,241.00 409.63,242.00 409.01,243.00 408.38,244.00 407.74,245.00 407.10,246.00 406.45,247.00 405.80,248.00 405.14,249.00 404.47,250.00 403.79,251.00 403.10,252.00 402.38,253.00 401.65,254.00 400.90,255.00 400.12,256.00 399.34,257.00 398.54,258.00 397.74,259.00 397.40,259.30 L391.30,259.30" fill="none" stroke="#1c1c1c" stroke-width="1" stroke-linejoin="round" stroke-linecap="round"/>
<line x1="391.3" y1="27.0" x2="391.3" y2="259.3" stroke="#1c1c1c" stroke-width="1"/>
<line x1="372.3" y1="162.3" x2="391.3" y2="162.3" stroke="#000" stroke-width="2.2"/>
<line x1="391.3" y1="196.8" x2="410.3" y2="196.8" stroke="#000" stroke-width="2.2"/>
<g stroke="#222" stroke-width="1.1" fill="none">
<line x1="56" y1="15" x2="56" y2="290.5"/>
<line x1="269.25" y1="15" x2="269.25" y2="290.5"/>
</g>
<g stroke="#111" stroke-width="1.05" fill="none">
<line x1="55.45" y1="290.5" x2="224" y2="290.5"/>
<line x1="268.7" y1="290.5" x2="437" y2="290.5"/>
</g>
<g stroke="#444" stroke-width="1.1">
<line x1="53" y1="283.5" x2="56" y2="283.5"/>
<line x1="53" y1="228.3" x2="56" y2="228.3"/>
<line x1="53" y1="173.1" x2="56" y2="173.1"/>
<line x1="53" y1="117.9" x2="56" y2="117.9"/>
<line x1="53" y1="62.7" x2="56" y2="62.7"/>
<line x1="266.2" y1="283.5" x2="269.2" y2="283.5"/>
<line x1="266.2" y1="228.3" x2="269.2" y2="228.3"/>
<line x1="266.2" y1="173.1" x2="269.2" y2="173.1"/>
<line x1="266.2" y1="117.9" x2="269.2" y2="117.9"/>
<line x1="266.2" y1="62.7" x2="269.2" y2="62.7"/>
<line x1="101.5" y1="290.5" x2="101.5" y2="293.2"/>
<line x1="178" y1="290.5" x2="178" y2="293.2"/>
<line x1="315" y1="290.5" x2="315" y2="293.2"/>
<line x1="391.3" y1="290.5" x2="391.3" y2="293.2"/>
</g>
<g class="tk" text-anchor="end">
<text x="51.3" y="287.9">10</text>
<text x="51.3" y="232.7">11</text>
<text x="51.3" y="177.5">12</text>
<text x="51.3" y="122.3">13</text>
<text x="51.3" y="67.1">14</text>
<text x="264.7" y="287.9">10</text>
<text x="264.7" y="232.7">11</text>
<text x="264.7" y="177.5">12</text>
<text x="264.7" y="122.3">13</text>
<text x="264.7" y="67.1">14</text>
</g>
<g class="tk" text-anchor="middle">
<text x="101.8" y="304">MT</text>
<text x="178.2" y="304">ND *</text>
<text x="315.3" y="304">MT *</text>
<text x="391.6" y="304">ND</text>
</g>
<g class="ti" text-anchor="middle">
<text x="140" y="319.6"><tspan font-style="italic">QGFmt−6H</tspan> Allele</text>
<text x="353.9" y="319.6"><tspan font-style="italic">QGFhd−7H</tspan> Allele</text>
<text transform="translate(32.2,152.5) rotate(-90)" x="0" y="0">Percent Grain Protein</text>
<text transform="translate(245,152.5) rotate(-90)" x="0" y="0">Percent Grain Protein</text>
</g>
</svg>
</body></html>
